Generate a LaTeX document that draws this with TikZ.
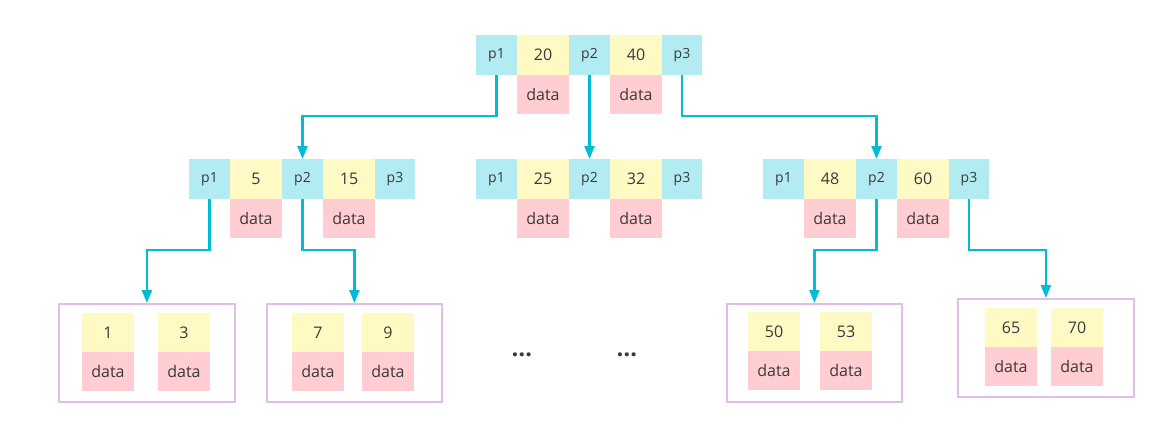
\documentclass[tikz,border=0pt]{standalone}
\usepackage{fontspec}
\setmainfont{Open Sans}
\usetikzlibrary{arrows.meta}
\definecolor{pblue}{HTML}{B2EBF2}
\definecolor{kyellow}{HTML}{FFF9C4}
\definecolor{dpink}{HTML}{FFCDD2}
\definecolor{leafborder}{HTML}{E1BEE7}
\definecolor{conncol}{HTML}{00BCD4}
\definecolor{txt}{HTML}{3A3A3A}
\tikzset{
  cellbase/.style={inner sep=0pt, outer sep=0pt, text=txt, minimum height=40pt},
  pcell/.style={cellbase, fill=pblue, minimum width=41pt, font=\fontsize{14pt}{16pt}\selectfont},
  pcellend/.style={pcell, minimum width=40pt},
  kcell/.style={cellbase, fill=kyellow, minimum width=52pt, font=\fontsize{16pt}{18pt}\selectfont},
  dcell/.style={cellbase, fill=dpink, minimum width=52pt, minimum height=39pt, font=\fontsize{16pt}{18pt}\selectfont},
  lkcell/.style={kcell, minimum height=39pt},
  leafbox/.style={draw=leafborder, line width=1.8pt, inner sep=0pt},
  conn/.style={draw=conncol, line width=2.2pt, -{Triangle[width=10pt,length=13pt]}},
  dots/.style={inner sep=0pt, text=txt, font=\fontsize{24pt}{26pt}\selectfont\bfseries},
}
\newcommand\bnode[5]{%
  \node[pcell, anchor=north west] (#1p1) at (#2,#3) {p1};
  \node[kcell, anchor=north west] (#1k1) at (#1p1.north east) {#4};
  \node[pcell, anchor=north west] (#1p2) at (#1k1.north east) {p2};
  \node[kcell, anchor=north west] (#1k2) at (#1p2.north east) {#5};
  \node[pcellend, anchor=north west] (#1p3) at (#1k2.north east) {p3};
  \node[dcell, anchor=north] (#1d1) at (#1k1.south) {data};
  \node[dcell, anchor=north] (#1d2) at (#1k2.south) {data};
}
% name, box x1, box y1, box x2, cell1 x, cell2 x, cell y, key1, key2
\newcommand\leafnode[9]{%
  \node[leafbox, anchor=north west, minimum width={(#4)-(#2)}, minimum height=98pt] (#1) at (#2,#3) {};
  \node[lkcell, anchor=north west] (#1k1) at (#5,#7) {#8};
  \node[lkcell, anchor=north west] (#1k2) at (#6,#7) {#9};
  \node[dcell, anchor=north] (#1d1) at (#1k1.south) {data};
  \node[dcell, anchor=north] (#1d2) at (#1k2.south) {data};
}
\begin{document}
\begin{tikzpicture}[x=1pt, y=-1pt]
  \useasboundingbox (0,0) rectangle (1159,431);
  % internal nodes
  \bnode{t}{476}{35}{20}{40}
  \bnode{l}{189}{159}{5}{15}
  \bnode{m}{476}{159}{25}{32}
  \bnode{r}{763}{159}{48}{60}
  % leaves
  \leafnode{la}{58}{303}{234}{82}{158}{313}{1}{3}
  \leafnode{lb}{266}{303}{441}{292}{362}{313}{7}{9}
  \leafnode{lc}{726}{303}{901}{748}{820}{312}{50}{53}
  \leafnode{ld}{957}{298}{1133}{985}{1051}{308}{65}{70}
  % ellipses
  \node[dots, anchor=base] (e1) at (522,356) {…};
  \node[dots, anchor=base] (e2) at (627,356) {…};
  % routing levels
  \coordinate (ya) at (0,116);
  \coordinate (yb) at (0,250);
  % connectors
  \draw[conn] (tp1.south) -- (tp1.south |- ya) -| (lp2.north);
  \draw[conn] (tp2.south) -- (mp2.north);
  \draw[conn] (tp3.south) -- (tp3.south |- ya) -| (rp2.north);
  \draw[conn] (lp1.south) -- (lp1.south |- yb) -| (la.north);
  \draw[conn] (lp2.south) -- (lp2.south |- yb) -| (lb.north);
  \draw[conn] (rp2.south) -- (rp2.south |- yb) -| (lc.north);
  \draw[conn] (rp3.south) -- (rp3.south |- yb) -| (ld.north);
\end{tikzpicture}
\end{document}
